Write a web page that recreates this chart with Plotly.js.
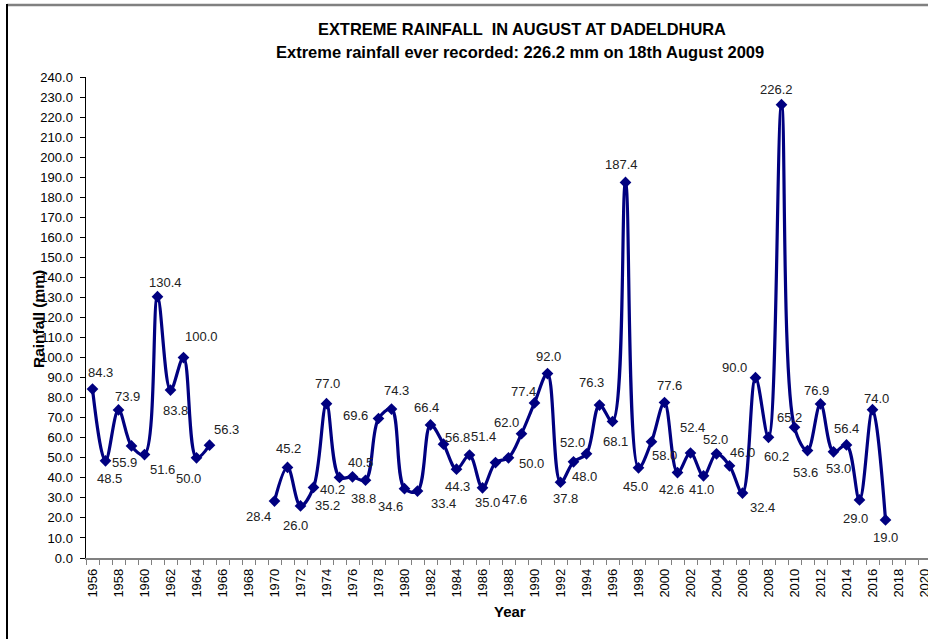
<!DOCTYPE html>
<html>
<head>
<meta charset="utf-8">
<script src="https://cdn.plot.ly/plotly-3.0.1.min.js"></script>
<style>
  html, body { margin: 0; padding: 0; background: #ffffff; }
  #chart { width: 928px; height: 639px; }
</style>
</head>
<body>
<div id="chart"></div>
<script>
// ---- data ----
const years = [
  1956, 1957, 1958, 1959, 1960, 1961, 1962, 1963, 1964, 1965,
  1966, 1967, 1968, 1969,
  1970, 1971, 1972, 1973, 1974, 1975, 1976, 1977, 1978, 1979,
  1980, 1981, 1982, 1983, 1984, 1985, 1986, 1987, 1988, 1989,
  1990, 1991, 1992, 1993, 1994, 1995, 1996, 1997, 1998, 1999,
  2000, 2001, 2002, 2003, 2004, 2005, 2006, 2007, 2008, 2009,
  2010, 2011, 2012, 2013, 2014, 2015, 2016, 2017
];
const rainfall = [
  84.3, 48.5, 73.9, 55.9, 51.6, 130.4, 83.8, 100.0, 50.0, 56.3,
  null, null, null, null,
  28.4, 45.2, 26.0, 35.2, 77.0, 40.2, 40.5, 38.8, 69.6, 74.3,
  34.6, 33.4, 66.4, 56.8, 44.3, 51.4, 35.0, 47.6, 50.0, 62.0,
  77.4, 92.0, 37.8, 48.0, 52.0, 76.3, 68.1, 187.4, 45.0, 58.0,
  77.6, 42.6, 52.4, 41.0, 52.0, 46.0, 32.4, 90.0, 60.2, 226.2,
  65.2, 53.6, 76.9, 53.0, 56.4, 29.0, 74.0, 19.0
];
const xTickValues = [
  1956, 1958, 1960, 1962, 1964, 1966, 1968, 1970, 1972, 1974, 1976,
  1978, 1980, 1982, 1984, 1986, 1988, 1990, 1992, 1994, 1996, 1998,
  2000, 2002, 2004, 2006, 2008, 2010, 2012, 2014, 2016, 2018, 2020
];
const xTickLabels = [
  '1956', '1958', '1960', '1962', '1964', '1966', '1968', '1970', '1972', '1974', '1976',
  '1978', '1980', '1982', '1984', '1986', '1988', '1990', '1992', '1994', '1996', '1998',
  '2000', '2002', '2004', '2006', '2008', '2010', '2012', '2014', '2016', '2018', '2020'
];
const titleText = 'EXTREME RAINFALL  IN AUGUST AT DADELDHURA';
const subtitleText = 'Extreme rainfall ever recorded: 226.2 mm on 18th August 2009';
const xTitleText = 'Year';
const yTitleText = 'Rainfall (mm)';

// ---- style: data-label offsets (pixels) from each point, as placed in the reference ----
const labelShiftX = [
  8, 4, 9, -7, 18, 8, 5, 18, -8, 17,
  null, null, null, null,
  -16, 1, -5, 14, 1, -7, 8, -2, -23, 5,
  -14, 26, -4, 14, 1, 14, 5, 19, 23, -15,
  -11, 1, 5, 11, -14, -8, 3, -4, -3, 13,
  5, -6, 2, -2, -1, 13, 20, -21, 8, -5,
  -5, -2, -4, 5, 0, -4, 4, 0
];
const labelShiftY = [
  17, -18, 13, -17, -15, 14, -20, 21, -21, 16,
  null, null, null, null,
  -15, 19, -20, -18, 20, -12, 14, -18, 3, 19,
  -18, -12, 17, 7, -17, 18, -15, -37, -6, 11,
  11, 17, -16, -15, 11, 23, -20, 18, -19, -14,
  17, -17, 25, -14, 14, 13, -14, 10, -19, 15,
  10, -22, 13, -17, 16, -19, 11, -18
];

const FONT = 'Liberation Sans, Arial, sans-serif';
const NAVY = '#000080';

// plot area geometry in pixels
const W = 928, H = 639;
const M = { l: 86, r: 0, t: 77, b: 81 };
const pw = W - M.l - M.r, ph = H - M.t - M.b;
const px2x = p => (p - M.l) / pw;
const py2y = p => (H - M.b - p) / ph;

const trace = {
  type: 'scatter',
  mode: 'lines+markers',
  x: years,
  y: rainfall,
  connectgaps: false,
  line: { color: NAVY, width: 3.2, shape: 'spline', smoothing: 1 },
  marker: { symbol: 'diamond', size: 9, color: NAVY },
  cliponaxis: false,
  hoverinfo: 'x+y'
};

const dataLabels = [];
years.forEach((yr, i) => {
  const v = rainfall[i];
  if (v === null) return;
  dataLabels.push({
    x: yr, y: v, xref: 'x', yref: 'y',
    text: v.toFixed(1),
    showarrow: false,
    xanchor: 'center', yanchor: 'middle',
    xshift: labelShiftX[i], yshift: labelShiftY[i],
    font: { family: FONT, size: 13, color: '#222222' }
  });
});

const layout = {
  width: W,
  height: H,
  margin: M,
  paper_bgcolor: '#ffffff',
  plot_bgcolor: '#ffffff',
  showlegend: false,
  font: { family: FONT, color: '#000000' },
  xaxis: {
    range: [1955.5, 1955.5 + pw / 13],
    tickmode: 'array',
    tickvals: xTickValues,
    ticktext: xTickLabels,
    tickangle: -90,
    ticks: 'outside',
    ticklen: 4,
    tickcolor: 'rgba(0,0,0,0)',
    ticklabeloverflow: 'allow',
    tickfont: { family: FONT, size: 13, color: '#000000' },
    minor: { ticks: 'outside', ticklen: 5, tickcolor: '#808080', tickwidth: 1, tick0: 1955.5, dtick: 1, showgrid: false },
    showline: true,
    linecolor: '#808080',
    linewidth: 1.5,
    showgrid: false,
    zeroline: false,
    fixedrange: true
  },
  yaxis: {
    range: [0, 240],
    tickmode: 'linear',
    tick0: 0,
    dtick: 10,
    tickformat: '.1f',
    ticks: 'outside',
    ticklen: 5,
    tickcolor: '#000000',
    ticklabelstandoff: 4,
    tickfont: { family: FONT, size: 13, color: '#000000' },
    showline: true,
    linecolor: '#000000',
    linewidth: 1.5,
    showgrid: false,
    zeroline: false,
    fixedrange: true
  },
  annotations: [
    { text: '<b>' + titleText + '</b>', xref: 'paper', yref: 'paper',
      x: px2x(522), y: py2y(29), xanchor: 'center', yanchor: 'middle', showarrow: false,
      font: { family: FONT, size: 16.4, color: '#000000' } },
    { text: '<b>' + subtitleText + '</b>', xref: 'paper', yref: 'paper',
      x: px2x(520), y: py2y(52), xanchor: 'center', yanchor: 'middle', showarrow: false,
      font: { family: FONT, size: 16.5, color: '#000000' } },
    { text: '<b>' + xTitleText + '</b>', xref: 'paper', yref: 'paper',
      x: px2x(510), y: py2y(611), xanchor: 'center', yanchor: 'middle', showarrow: false,
      font: { family: FONT, size: 15, color: '#000000' } },
    { text: '<b>' + yTitleText + '</b>', xref: 'paper', yref: 'paper', textangle: -90,
      x: px2x(38), y: py2y(319), xanchor: 'center', yanchor: 'middle', showarrow: false,
      font: { family: FONT, size: 15.5, color: '#000000' } }
  ].concat(dataLabels),
  shapes: [
    { type: 'line', xref: 'paper', yref: 'paper',
      x0: px2x(7), x1: px2x(W + 2), y0: py2y(5), y1: py2y(5),
      line: { color: '#808080', width: 2.5 } },
    { type: 'line', xref: 'paper', yref: 'paper',
      x0: px2x(7), x1: px2x(7), y0: py2y(4), y1: py2y(H + 2),
      line: { color: '#000000', width: 2 } }
  ]
};

Plotly.newPlot('chart', [trace], layout, { displayModeBar: false, staticPlot: true });
</script>
</body>
</html>
